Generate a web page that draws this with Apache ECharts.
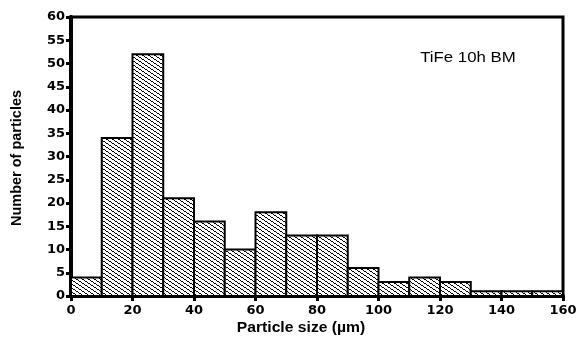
<!DOCTYPE html>
<html><head><meta charset="utf-8">
<script src="https://cdn.jsdelivr.net/npm/echarts@6/dist/echarts.min.js"></script>
<style>html,body{margin:0;padding:0;background:#fff}#c{width:580px;height:338px}</style>
</head><body><div id="c"></div>
<script>
const binStarts = [0,10,20,30,40,50,60,70,80,90,100,110,120,130,140,150];
const binWidth = 10;
const counts = [4,34,52,21,16,10,18,13,13,6,3,4,3,1,1,1];
const xTicks = [0,20,40,60,80,100,120,140,160];
const yTicks = [0,5,10,15,20,25,30,35,40,45,50,55,60];
const annotation = 'TiFe 10h BM';

function hatch(){
  const w=6,h=4;
  const c=document.createElement('canvas');c.width=w;c.height=h;
  const g=c.getContext('2d');
  g.fillStyle='#fff';g.fillRect(0,0,w,h);
  g.fillStyle='#000';
  const ys=[0,1,1,2,3,3];
  for(let x=0;x<w;x++){ g.fillRect(x,ys[x],1,1); }
  return c;
}
const pat={image:hatch(),repeat:'repeat'};
const chart=echarts.init(document.getElementById('c'),null,{renderer:'canvas'});
const font='Liberation Sans, Arial, sans-serif';
const tickFont='DejaVu Sans, sans-serif';
chart.setOption({
  animation:false,
  grid:{left:71,right:17,top:17,bottom:42,show:true,borderColor:'#000',borderWidth:3,backgroundColor:'transparent'},
  xAxis:{type:'value',min:0,max:160,interval:20,
    axisLine:{show:true,onZero:false,lineStyle:{color:'#000',width:4}},
    axisTick:{show:true,length:5,lineStyle:{color:'#000',width:3}},
    splitLine:{show:false},
    axisLabel:{color:'#000',fontWeight:'bold',fontSize:13,fontFamily:tickFont,margin:8,
      formatter:v=>xTicks.includes(v)?String(v):''}
  },
  yAxis:{type:'value',min:0,max:60,interval:5,
    axisLine:{show:true,lineStyle:{color:'#000',width:4}},
    axisTick:{show:true,length:5,lineStyle:{color:'#000',width:3}},
    splitLine:{show:false},
    axisLabel:{color:'#000',fontWeight:'bold',fontSize:13,fontFamily:tickFont,margin:6,
      formatter:v=>yTicks.includes(v)?String(v):''}
  },
  graphic:[
    {type:'text',x:301,y:328,scaleX:1.12,style:{text:'Particle size (\u00b5m)',font:'bold 14px '+font,fill:'#000',align:'center',verticalAlign:'middle'}},
    {type:'text',x:17,y:158,rotation:Math.PI/2,style:{text:'Number of particles',font:'bold 14.5px '+font,fill:'#000',align:'center',verticalAlign:'middle'}},
    {type:'text',x:468,y:58,scaleX:1.2,style:{text:annotation,font:'14px '+font,fill:'#000',align:'center',verticalAlign:'middle'}}
  ],
  series:[{
    type:'custom',
    data:binStarts.map((s,i)=>[s,s+binWidth,counts[i]]),
    renderItem:(params,api)=>{
      const p0=api.coord([api.value(0),api.value(2)]);
      const p1=api.coord([api.value(1),0]);
      return {type:'rect',shape:{x:p0[0],y:p0[1],width:p1[0]-p0[0],height:p1[1]-p0[1]},
        style:{fill:pat,stroke:'#000',lineWidth:2}};
    },
    z:1
  }]
});
</script></body></html>
